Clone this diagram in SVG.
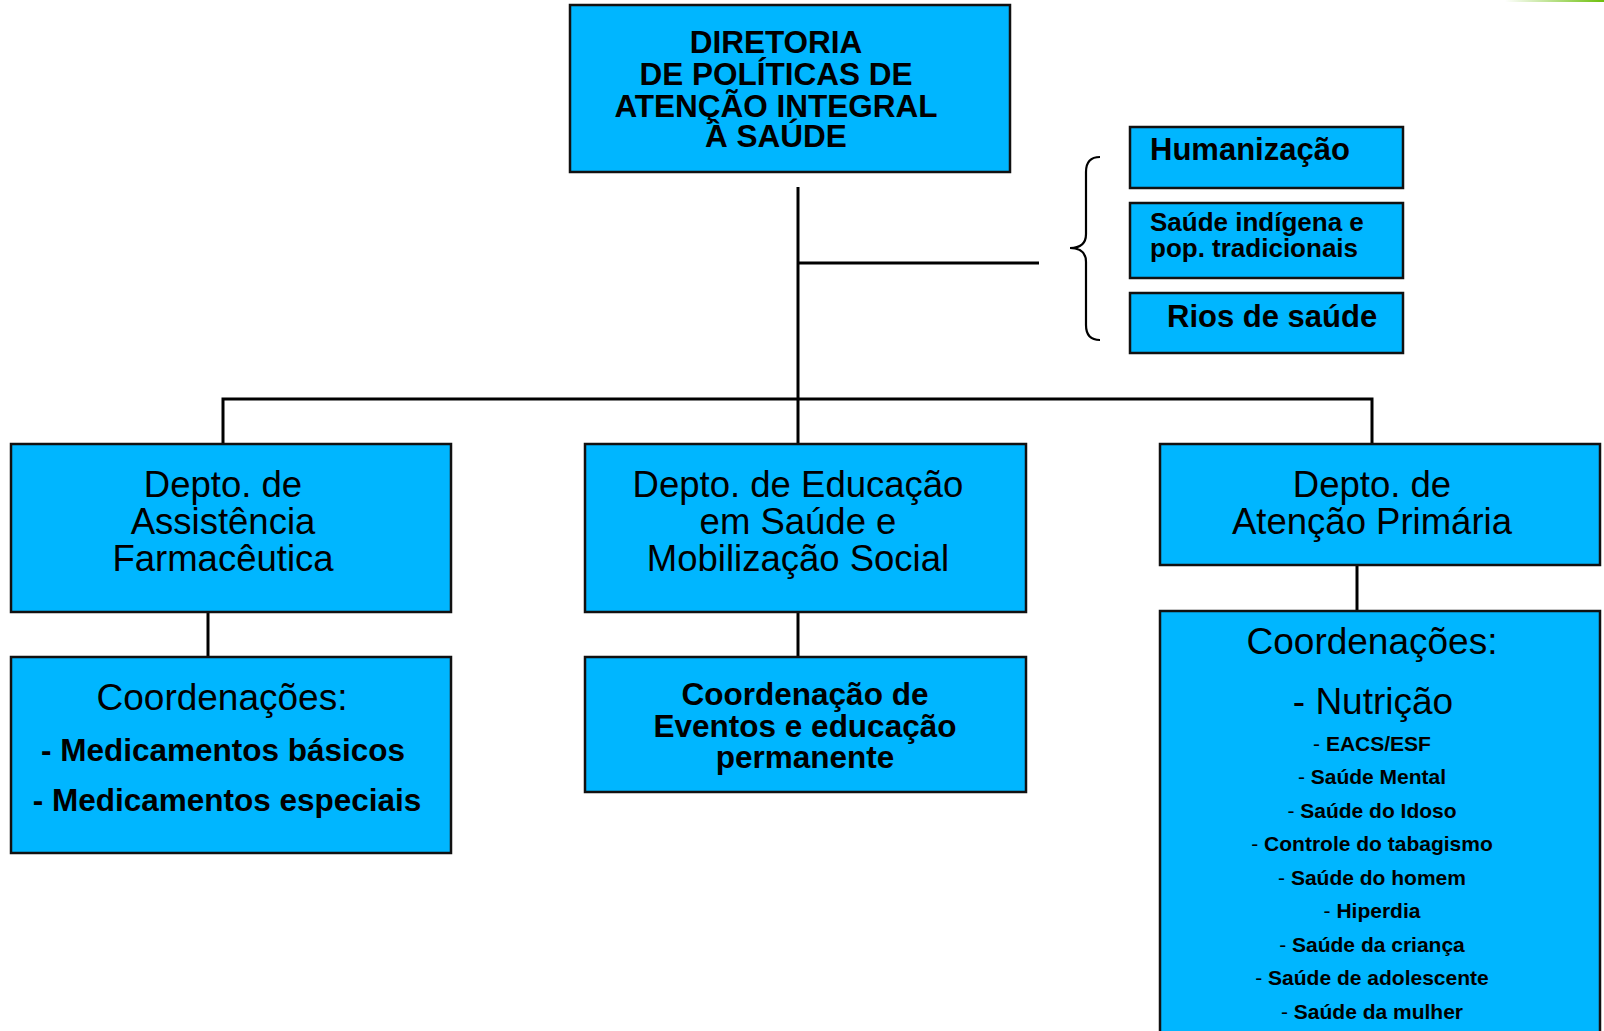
<svg xmlns="http://www.w3.org/2000/svg" width="1604" height="1031" viewBox="0 0 1604 1031">
<defs>
<linearGradient id="grn" x1="0" y1="0" x2="1" y2="0">
<stop offset="0" stop-color="#ffffff"/>
<stop offset="1" stop-color="#6cbf0a"/>
</linearGradient>
</defs>
<style>
.box{fill:#00B6FF;stroke:#111;stroke-width:2.5}
.ln{fill:none;stroke:#000;stroke-width:3;stroke-linejoin:miter;stroke-linecap:butt}
.br{fill:none;stroke:#000;stroke-width:2.2}
text{font-family:"Liberation Sans",Arial,sans-serif;fill:#000}
.b{font-weight:bold}
.c{text-anchor:middle}
.reg{font-weight:normal}
</style>
<rect width="1604" height="1031" fill="#fff"/>
<rect x="1505" y="0" width="99" height="2" fill="url(#grn)"/>

<g id="connectors">
<path class="ln" d="M798,187 V399"/>
<path class="ln" d="M798,263 H1039"/>
<path class="ln" d="M223,444 V399 H1372 V444"/>
<path class="ln" d="M798,399 V444"/>
<path class="ln" d="M208,612 V657"/>
<path class="ln" d="M798,612 V657"/>
<path class="ln" d="M1357,565 V611"/>
<path class="br" d="M1100,157 Q1086,157 1086,172 L1086,234 Q1086,248 1070,248 Q1086,248 1086,262 L1086,325 Q1086,340 1100,340"/>
</g>

<g id="diretoria">
<rect class="box" x="570" y="5" width="440" height="167"/>
<text class="b c" font-size="31.5" x="776" y="53">DIRETORIA</text>
<text class="b c" font-size="31.5" x="776" y="85">DE POLÍTICAS DE</text>
<text class="b c" font-size="31.5" x="776" y="117">ATENÇÃO INTEGRAL</text>
<text class="b c" font-size="31.5" x="776" y="147">À SAÚDE</text>
</g>

<g id="humanizacao">
<rect class="box" x="1130" y="127" width="273" height="61"/>
<text class="b" font-size="31" x="1150" y="160">Humanização</text>
</g>

<g id="saude-indigena">
<rect class="box" x="1130" y="203" width="273" height="75"/>
<text class="b" font-size="26" x="1150" y="231">Saúde indígena e</text>
<text class="b" font-size="26" x="1150" y="257">pop. tradicionais</text>
</g>

<g id="rios">
<rect class="box" x="1130" y="293" width="273" height="60"/>
<text class="b" font-size="31" x="1167" y="327">Rios de saúde</text>
</g>

<g id="depto-farmaceutica">
<rect class="box" x="11" y="444" width="440" height="168"/>
<text class="c" font-size="36.5" x="223" y="497">Depto. de</text>
<text class="c" font-size="36.5" x="223" y="534">Assistência</text>
<text class="c" font-size="36.5" x="223" y="571">Farmacêutica</text>
</g>

<g id="coord-farmaceutica">
<rect class="box" x="11" y="657" width="440" height="196"/>
<text class="c" font-size="37" x="222" y="710">Coordenações:</text>
<text class="b c" font-size="31.5" x="223" y="761">- Medicamentos básicos</text>
<text class="b c" font-size="31.5" x="227" y="811">- Medicamentos especiais</text>
</g>

<g id="depto-educacao">
<rect class="box" x="585" y="444" width="441" height="168"/>
<text class="c" font-size="36.5" x="798" y="497">Depto. de Educação</text>
<text class="c" font-size="36.5" x="798" y="534">em Saúde e</text>
<text class="c" font-size="36.5" x="798" y="571">Mobilização Social</text>
</g>

<g id="coord-eventos">
<rect class="box" x="585" y="657" width="441" height="135"/>
<text class="b c" font-size="31.5" x="805" y="705">Coordenação de</text>
<text class="b c" font-size="31.5" x="805" y="737">Eventos e educação</text>
<text class="b c" font-size="31.5" x="805" y="768">permanente</text>
</g>

<g id="depto-atencao">
<rect class="box" x="1160" y="444" width="440" height="121"/>
<text class="c" font-size="36.5" x="1372" y="497">Depto. de</text>
<text class="c" font-size="36.5" x="1372" y="534">Atenção Primária</text>
</g>

<g id="coord-atencao">
<rect class="box" x="1160" y="611" width="440" height="430"/>
<text class="c" font-size="37" x="1372" y="654">Coordenações:</text>
<text class="c" font-size="37" x="1373" y="714">- Nutrição</text>
<text class="b c" font-size="21" x="1372" y="750.5"><tspan class="reg">- </tspan>EACS/ESF</text>
<text class="b c" font-size="21" x="1372" y="784"><tspan class="reg">- </tspan>Saúde Mental</text>
<text class="b c" font-size="21" x="1372" y="817.5"><tspan class="reg">- </tspan>Saúde do Idoso</text>
<text class="b c" font-size="21" x="1372" y="851"><tspan class="reg">- </tspan>Controle do tabagismo</text>
<text class="b c" font-size="21" x="1372" y="884.5"><tspan class="reg">- </tspan>Saúde do homem</text>
<text class="b c" font-size="21" x="1372" y="918"><tspan class="reg">- </tspan>Hiperdia</text>
<text class="b c" font-size="21" x="1372" y="951.5"><tspan class="reg">- </tspan>Saúde da criança</text>
<text class="b c" font-size="21" x="1372" y="985"><tspan class="reg">- </tspan>Saúde de adolescente</text>
<text class="b c" font-size="21" x="1372" y="1018.5"><tspan class="reg">- </tspan>Saúde da mulher</text>
</g>
</svg>
